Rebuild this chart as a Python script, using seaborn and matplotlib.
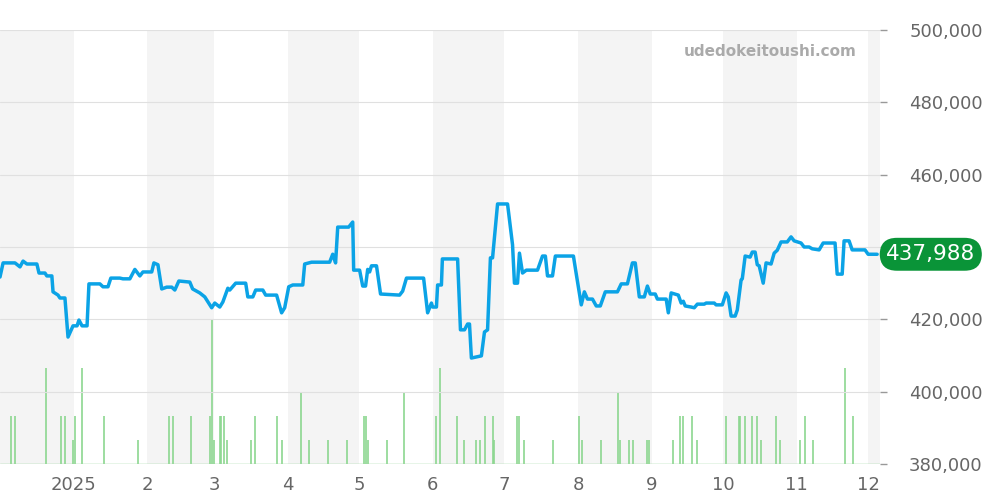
import numpy as np
import pandas as pd
import matplotlib
matplotlib.use("Agg")
import matplotlib.pyplot as plt
import seaborn as sns

start = pd.Timestamp("2024-12-01")

# price line: day offset from 2024-12-01, price in thousands of yen
price_days = [0,1.3,6.3,8.4,9.7,11.3,15.5,16.4,18.9,19.7,21.8,22.3,24.4,25.2,27.3,28.6,30.7,32.4,33.2,34.5,
              36.6,37.4,42,43.3,45.4,46.6,50.4,51.7,54.6,56.7,58.8,60.1,63.8,64.7,66.4,68,70.1,72.2,73.5,75.2,
              79.8,81,84,86.1,89,90.3,92.4,93.7,95.8,96.6,99.1,103.3,104.2,106.3,107.5,110.5,111.7,116.3,118.4,119.7,
              121.4,123.1,127.3,128.1,131,138.6,139.9,141.1,142,146.6,148.3,148.7,151.2,152.5,153.7,154.6,155.4,156.2,158.3,160,
              168,169.3,170.9,178.1,179.8,181.4,181.9,183.5,184,185.6,186,192.4,193.6,195.3,196.6,197.4,198.2,202.4,203.7,205,
              206.2,207.1,209.2,213.4,215.5,216.3,217.6,218.4,219.7,221.3,226,228.1,229.3,230.2,232.3,233.5,241.1,242.3,244.4,245.7,
              247,249.1,250.7,252.4,254.5,259.6,261.2,263.8,265.9,267.1,268.8,270.9,272.2,273.4,275.5,276.4,280.1,281,282.2,285.2,
              286.4,287.3,288.1,290.6,291.9,293.2,296.1,296.9,300.3,301.1,303.7,305.3,306.2,307.4,309.1,310,311.6,312.1,313.3,315.4,
              316.3,317.5,318.4,319.2,320.9,322.1,324.2,325.5,326.8,328.4,331,332.6,333.9,336.8,338.1,340.2,341.5,344.4,346.1,351.1,
              352,354.1,354.9,357,358.3,363.7,365,368.8]
price_k = [431.7,435.6,435.6,434.5,436.1,435.3,435.3,432.8,432.8,432,432,427.6,426.7,425.9,425.9,415.1,418.2,418.2,419.8,418.2,
           418.2,429.8,429.8,429,429,431.4,431.4,431.2,431.2,433.8,432,433.1,433.1,435.6,435.1,428.4,428.9,428.9,428.1,430.6,
           430.3,428.4,427.3,426.2,423.2,424.5,423.4,424.8,428.6,428.1,430,430,426.2,426.2,428.1,428.1,426.7,426.7,421.8,423.2,
           429,429.5,429.5,435.3,435.8,435.8,438,435.6,445.5,445.5,446.9,433.6,433.6,429.2,429.2,433.8,433.1,434.8,434.8,427,
           426.7,427.8,431.4,431.4,421.8,424.5,423.4,423.4,429.5,429.5,436.7,436.7,417.1,417.1,418.7,418.7,409.3,409.9,416.5,417.1,
           437,437,451.9,451.9,440.6,430,430,438.3,432.8,433.6,433.6,437.5,437.5,432,432,437.5,437.5,432.5,424,427.6,
           425.6,425.6,423.7,423.7,427.6,427.6,429.8,429.8,435.6,435.6,426.2,426.2,429.2,427,427,425.6,425.6,421.8,427.3,426.7,
           424.5,425,423.7,423.4,423.2,424.2,424.2,424.5,424.5,424,424,427.3,426.2,420.9,420.9,422.6,430.9,431.2,437.5,437.2,
           438.6,438.6,435.1,434.8,430,435.6,435.3,438.3,439.1,441.4,441.4,442.8,441.7,441.1,440,440,439.5,439.2,441.1,441.1,
           432.5,432.5,441.7,441.7,439.2,439.2,438,437.988]

# trade counts per day
vol_days = [4.6,6.2,19.5,25.7,27.3,30.6,31.7,34.6,43.8,57.9,70.9,72.8,80.1,88.5,89.3,90.1,92.3,93.1,94.2,95.3,
            105.5,107.4,116.6,118.5,126.6,129.9,137.7,145.9,152.9,154,154.8,162.9,169.9,183.5,185.1,192.1,195.1,200.2,201.9,204,
            207.3,207.8,217.3,218.1,220.5,232.7,243.5,244.6,252.7,259.8,260.6,264.6,266,271.9,272.8,282.8,286,287.1,290.9,293.1,
            305.2,310.6,311.2,313.1,316.3,318.2,320.1,326.1,328,336.4,338.5,341.8,355.3,358.5]
vol_n = [2,2,4,2,2,1,2,4,2,1,2,2,2,2,6,1,2,2,2,1,
         1,2,2,1,3,1,1,1,2,2,1,1,3,2,4,2,1,1,1,2,
         2,1,2,2,1,1,2,1,1,3,1,1,1,1,1,1,2,2,2,1,
         2,2,2,2,2,2,1,2,1,1,2,1,4,2]

last_price = 437988

df = pd.DataFrame({"date": start + pd.to_timedelta(price_days, unit="D"), "price": np.array(price_k) * 1000})
vdates = start + pd.to_timedelta(vol_days, unit="D")

sns.set_style("white")
plt.rcParams['font.family'] = ['DejaVu Sans']
grey = "#666666"

fig = plt.figure(figsize=(10, 5), dpi=100)
ax = fig.add_axes([0.0, 0.072, 0.88, 0.868])
xmin, xmax = start, pd.Timestamp("2025-12-06")

# volume on its own axis, underneath the price axis
vax = ax.twinx()
months = pd.date_range("2024-12-01", "2026-01-01", freq="MS")
for i in range(len(months) - 1):
    if i % 2 == 0:
        vax.axvspan(months[i], months[i + 1], color="#f4f4f4", lw=0, zorder=0)
vax.vlines(vdates, 0, vol_n, color="#8cd790", lw=1.2, zorder=2)
vax.axhline(0.02, color="#8cd790", lw=1, zorder=2)
vax.set_ylim(0, 434 / 24)
vax.axis("off")

ax.set_zorder(vax.get_zorder() + 1)
ax.patch.set_visible(False)
sns.lineplot(data=df, x="date", y="price", ax=ax, color="#0ba3e6", lw=2.5, zorder=3)

ax.set_xlim(xmin, xmax)
ax.set_ylim(380000, 500000)
yt = list(range(380000, 500001, 20000))
ax.set_yticks(yt)
ax.yaxis.tick_right()
ax.set_yticklabels([f"{v:,}" if v != 440000 else "" for v in yt], color=grey, fontsize=13)
ax.grid(axis="y", color="#e0e0e0", lw=0.8)
ax.grid(axis="x", visible=False)
tick_dates = pd.date_range("2025-01-01", "2025-12-01", freq="MS")
ax.set_xticks(tick_dates)
ax.set_xticklabels(["2025"] + [str(m) for m in range(2, 13)], color=grey, fontsize=13)
ax.tick_params(axis="both", direction="out", length=5, color="#999999", width=1, pad=4)
ax.tick_params(axis="y", pad=16)
ax.set_xlabel("")
ax.set_ylabel("")
for s in ax.spines.values():
    s.set_visible(False)
for s in vax.spines.values():
    s.set_visible(False)

ax.text(1.007, last_price, f"{last_price:,}", transform=ax.get_yaxis_transform(),
        ha="left", va="center", color="white", fontsize=15.5, zorder=5,
        bbox=dict(boxstyle="round,pad=0.3,rounding_size=0.8", fc="#0a9438", ec="none"))
ax.text(0.974, 0.95, "udedokeitoushi.com", transform=ax.transAxes, ha="right", va="center",
        color="#aaaaaa", fontsize=11, fontweight="bold")

fig.savefig("out.png", dpi=100)
